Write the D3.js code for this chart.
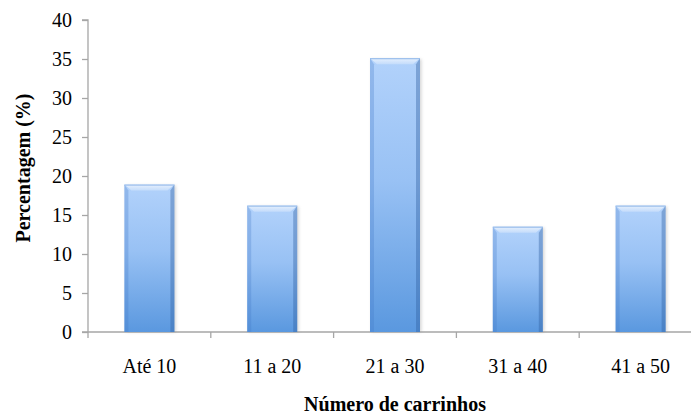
<!DOCTYPE html>
<html>
<head>
<meta charset="utf-8">
<script src="https://cdn.jsdelivr.net/npm/d3@7"></script>
<style>
  html, body { margin: 0; padding: 0; background: #ffffff; }
  svg { display: block; }
  .serif { font-family: "Liberation Serif", Tinos, "Nimbus Roman", "Nimbus Roman No9 L", FreeSerif, "Noto Serif", "DejaVu Serif", Times, serif; }
</style>
</head>
<body>
<svg id="chart" width="691" height="415"></svg>
<script>
// Share of respondents by number of carts (percent)
const categories = ["Até 10", "11 a 20", "21 a 30", "31 a 40", "41 a 50"];
const values = [18.9, 16.2, 35.1, 13.5, 16.2];
const yTicks = [0, 5, 10, 15, 20, 25, 30, 35, 40];
const xTitle = "Número de carrinhos";
const yTitle = "Percentagem (%)";

const svg = d3.select("#chart");
const plotLeft = 88, plotRight = 702, plotTop = 20, plotBottom = 332;

const x = d3.scaleBand().domain(categories).range([plotLeft, plotRight]).paddingInner(0).paddingOuter(0);
const y = d3.scaleLinear().domain([0, 40]).range([plotBottom, plotTop]);

const axisColor = "#a6a6a6";

// Gradients for the bevelled bars
const defs = svg.append("defs");
const body = defs.append("linearGradient").attr("id", "barBody")
  .attr("x1", 0).attr("y1", 0).attr("x2", 0).attr("y2", 1);
body.append("stop").attr("offset", "0%").attr("stop-color", "#b2d2fb");
body.append("stop").attr("offset", "45%").attr("stop-color", "#98c1f4");
body.append("stop").attr("offset", "100%").attr("stop-color", "#5a98df");

const topBevel = defs.append("linearGradient").attr("id", "barTop")
  .attr("x1", 0).attr("y1", 0).attr("x2", 0).attr("y2", 1);
topBevel.append("stop").attr("offset", "0%").attr("stop-color", "#e6f0fd");
topBevel.append("stop").attr("offset", "100%").attr("stop-color", "#c4dcfb");

const blur = defs.append("filter").attr("id", "soft").attr("x", "-20%").attr("y", "-20%")
  .attr("width", "140%").attr("height", "140%");
blur.append("feGaussianBlur").attr("stdDeviation", 1.6);

// Y axis
const yAxis = d3.axisLeft(y).tickValues(yTicks).tickSize(6).tickPadding(10).tickFormat(d3.format("d"));
const gy = svg.append("g").attr("transform", `translate(${plotLeft},0)`).call(yAxis)
  .attr("font-family", null).attr("font-size", 20).attr("class", "serif");
gy.select(".domain").attr("stroke", axisColor).attr("stroke-width", 1.3)
  .attr("d", `M-6,${plotTop}H0V${plotBottom}`);
gy.selectAll(".tick line").attr("stroke", axisColor).attr("stroke-width", 1.3);
gy.selectAll(".tick text").attr("fill", "#000");

// X axis
const xAxis = d3.axisBottom(x).tickSize(0).tickPadding(27);
const gx = svg.append("g").attr("transform", `translate(0,${plotBottom})`).call(xAxis)
  .attr("font-family", null).attr("font-size", 20).attr("class", "serif");
gx.select(".domain").attr("stroke", axisColor).attr("stroke-width", 1.3)
  .attr("d", `M${plotLeft - 6},0H${plotRight}`);
gx.selectAll(".tick text").attr("fill", "#000");
// boundary ticks between categories
gx.selectAll(".sep").data(categories).enter().append("line")
  .attr("x1", d => x(d)).attr("x2", d => x(d))
  .attr("y1", 0).attr("y2", 6)
  .attr("stroke", axisColor).attr("stroke-width", 1.3);

// Bars
const barW = 50;
const bev = 6;
const bars = svg.append("g").selectAll("g").data(categories).enter().append("g");

bars.each(function(d, i) {
  const g = d3.select(this);
  const x0 = x(d) + x.bandwidth() / 2 - barW / 2;
  const x1 = x0 + barW;
  const y0 = y(values[i]);
  const y1 = y(0);
  // soft shadow
  g.append("rect").attr("x", x0 + 1.5).attr("y", y0 + 1).attr("width", barW).attr("height", y1 - y0 - 1)
    .attr("fill", "#8a8a8a").attr("opacity", 0.35).attr("filter", "url(#soft)");
  g.append("rect").attr("x", x0).attr("y", y0).attr("width", barW).attr("height", y1 - y0)
    .attr("fill", "url(#barBody)");
  // side bevels
  g.append("path").attr("d", `M${x0},${y0}L${x0 + 4},${y0 + bev}V${y1}H${x0}Z`)
    .attr("fill", "#3f78c4").attr("opacity", 0.28);
  g.append("path").attr("d", `M${x1},${y0}L${x1 - 4},${y0 + bev}V${y1}H${x1}Z`)
    .attr("fill", "#2f5f9f").attr("opacity", 0.4);
  // top bevel
  g.append("path").attr("d", `M${x0},${y0}H${x1}L${x1 - 7},${y0 + bev}H${x0 + 7}Z`)
    .attr("fill", "url(#barTop)");
  g.append("line").attr("x1", x0).attr("x2", x1).attr("y1", y0 + 0.5).attr("y2", y0 + 0.5)
    .attr("stroke", "#8fb6e8").attr("stroke-width", 1);
});

// Axis titles
svg.append("text").attr("class", "serif").attr("x", 395).attr("y", 411).attr("text-anchor", "middle")
  .attr("font-size", 20).attr("font-weight", "bold").text(xTitle);
svg.append("text").attr("class", "serif").attr("transform", "translate(30,168) rotate(-90)").attr("text-anchor", "middle")
  .attr("font-size", 20).attr("font-weight", "bold").text(yTitle);
</script>
</body>
</html>
